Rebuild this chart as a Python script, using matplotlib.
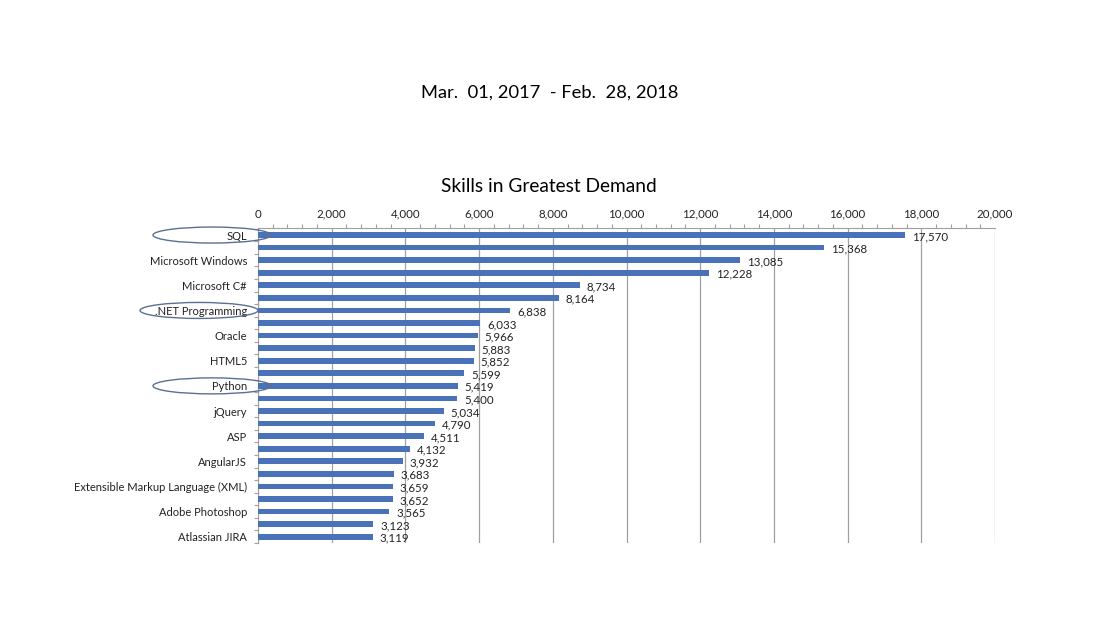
import numpy as np
import matplotlib
matplotlib.use("Agg")
import matplotlib.pyplot as plt
from matplotlib.patches import Ellipse
from matplotlib.ticker import MultipleLocator, FuncFormatter

plt.rcParams['font.family'] = ['Lato', 'DejaVu Sans']

# Excel only shows every other category label
skills = ['SQL', '', 'Microsoft Windows', '', 'Microsoft C#', '',
          '.NET Programming', '', 'Oracle', '', 'HTML5', '', 'Python', '',
          'jQuery', '', 'ASP', '', 'AngularJS', '',
          'Extensible Markup Language (XML)', '', 'Adobe Photoshop', '',
          'Atlassian JIRA']
counts = [17570, 15368, 13085, 12228, 8734, 8164, 6838, 6033, 5966, 5883,
          5852, 5599, 5419, 5400, 5034, 4790, 4511, 4132, 3932, 3683,
          3659, 3652, 3565, 3123, 3119]
circled = ['SQL', '.NET Programming', 'Python']

W, H = 1100, 618
fig = plt.figure(figsize=(W / 100, H / 100), dpi=100)
ax = fig.add_axes([258 / W, 1 - 543 / H, 737 / W, 315 / H])

y = np.arange(len(counts))
ax.barh(y, counts, height=0.45, color='#4a72b8', zorder=3)

### value labels just past bar end, a touch below centre
for yi, v in zip(y, counts):
    ax.annotate(f'{v:,}', (v, yi), xytext=(5, -0.3), textcoords='offset points',
                ha='left', va='center_baseline', fontsize=8.3,
                color='#222222', zorder=4)

ax.set_xlim(0, 20000)
ax.set_ylim(len(counts) - 0.5, -0.56)

### x axis on top
ax.xaxis.tick_top()
ax.xaxis.set_major_locator(MultipleLocator(2000))
ax.xaxis.set_minor_locator(MultipleLocator(400))
ax.xaxis.set_major_formatter(FuncFormatter(lambda v, p: f'{int(v):,}'))
ax.tick_params(axis='x', which='major', length=0, labelsize=8.3, pad=6,
               labelcolor='#222222')
ax.tick_params(axis='x', which='minor', length=3, color='#a0a0a0', width=0.8)
ax.grid(axis='x', which='major', color='#a0a0a0', linewidth=0.9, zorder=0)

### y axis: labels at bars, ticks at category boundaries
ax.set_yticks(y)
ax.set_yticklabels(skills)
ax.set_yticks(np.arange(len(counts) + 1) - 0.5, minor=True)
ax.tick_params(axis='y', which='major', length=0, labelsize=8, pad=8,
               labelcolor='#222222')
ax.tick_params(axis='y', which='minor', length=3, color='#a0a0a0', width=0.8)

for s in ['right', 'bottom']:
    ax.spines[s].set_visible(False)
for s in ['left', 'top']:
    ax.spines[s].set_color('#a0a0a0')
    ax.spines[s].set_linewidth(0.8)

fig.text(550 / W, 1 - 93 / H, 'Mar.  01, 2017  - Feb.  28, 2018',
         ha='center', va='center', fontsize=13.2)
fig.text(549 / W, 1 - 186 / H, 'Skills in Greatest Demand',
         ha='center', va='center', fontsize=13.8)

### ellipses drawn round the highlighted labels
for name in circled:
    yi = skills.index(name)
    _, py = ax.transData.transform((0, yi))
    cx = 199 if name.startswith('.NET') else 212
    e = Ellipse((cx, py), 118, 16, transform=None, fill=False,
                edgecolor='#5b7091', linewidth=1.0, zorder=5)
    fig.patches.append(e)

fig.savefig('out.png', dpi=100)
